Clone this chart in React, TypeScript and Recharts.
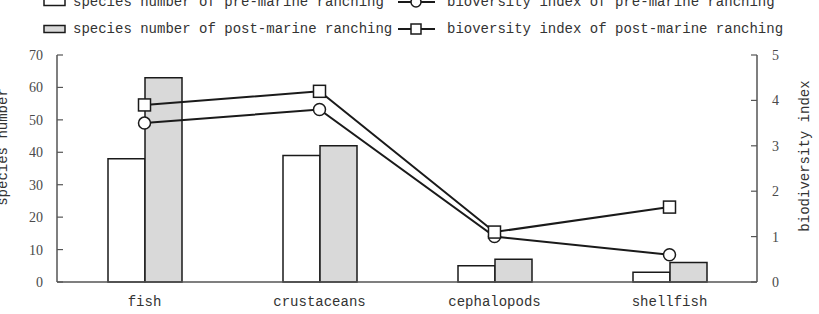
import React from "react"
import { ComposedChart, Bar, Line, XAxis, YAxis } from "recharts"

const categories = ["fish", "crustaceans", "cephalopods", "shellfish"]
const speciesPre = [38, 39, 5, 3]
const speciesPost = [63, 42, 7, 6]
const indexPre = [3.5, 3.8, 1.0, 0.6]
const indexPost = [3.9, 4.2, 1.1, 1.65]

const speciesTicks = [0, 10, 20, 30, 40, 50, 60, 70]
const indexTicks = [0, 1, 2, 3, 4, 5]

const seriesNames = {
  speciesPre: "species number of pre-marine ranching",
  speciesPost: "species number of post-marine ranching",
  indexPre: "bioversity index of pre-marine ranching",
  indexPost: "bioversity index of post-marine ranching",
}

const data = categories.map((name, i) => ({
  name,
  speciesPre: speciesPre[i],
  speciesPost: speciesPost[i],
  indexPre: indexPre[i],
  indexPost: indexPost[i],
}))

const MONO = "'Liberation Mono', 'DejaVu Sans Mono', monospace"
const SERIF = "'Liberation Serif', 'DejaVu Serif', serif"
const INK = "#1a1a1a"
const AXIS = "#555"
const GREY_FILL = "#d9d9d9"

const numTick = { fontFamily: SERIF, fontSize: 14, fill: "#4a4a4a" }

const SquareDot = (props: any) => {
  const { cx, cy } = props
  if (cx == null || cy == null) return null
  return <rect x={cx - 6} y={cy - 6} width={12} height={12} fill="#fff" stroke={INK} strokeWidth={1.5} />
}

const RotatedTitle = ({ x, y, text }: { x: number; y: number; text: string }) => (
  <text
    x={x}
    y={y}
    transform={`rotate(-90 ${x} ${y})`}
    textAnchor="middle"
    dominantBaseline="central"
    fontFamily={MONO}
    fontSize={14}
    fill="#333"
  >
    {text}
  </text>
)

const BarSwatch = ({ fill }: { fill: string }) => (
  <svg width={24} height={10} style={{ position: "absolute", left: 0, top: 3 }}>
    <rect x={1} y={1.5} width={21} height={7} fill={fill} stroke={INK} strokeWidth={1.5} />
  </svg>
)

const LineSwatch = ({ square }: { square: boolean }) => (
  <svg width={38} height={14} style={{ position: "absolute", left: 0, top: 1 }}>
    <line x1={0} y1={7} x2={37} y2={7} stroke={INK} strokeWidth={2} />
    {square ? (
      <rect x={13} y={2} width={10} height={10} fill="#fff" stroke={INK} strokeWidth={1.5} />
    ) : (
      <circle cx={18} cy={7} r={5} fill="#fff" stroke={INK} strokeWidth={1.5} />
    )}
  </svg>
)

function LegendBlock() {
  const row = (top: number, left: React.ReactNode, leftText: string, right: React.ReactNode, rightText: string) => (
    <div style={{ position: "absolute", top, left: 0, width: 819, height: 16 }}>
      <div style={{ position: "absolute", left: 43 }}>{left}</div>
      <div style={{ position: "absolute", left: 73, lineHeight: "16px", whiteSpace: "nowrap" }}>{leftText}</div>
      <div style={{ position: "absolute", left: 398 }}>{right}</div>
      <div style={{ position: "absolute", left: 447, lineHeight: "16px", whiteSpace: "nowrap" }}>{rightText}</div>
    </div>
  )
  return (
    <div style={{ position: "absolute", left: 0, top: 0, fontFamily: MONO, fontSize: 14, color: "#333" }}>
      {row(-6, <BarSwatch fill="#fff" />, seriesNames.speciesPre, <LineSwatch square={false} />, seriesNames.indexPre)}
      {row(21, <BarSwatch fill={GREY_FILL} />, seriesNames.speciesPost, <LineSwatch square />, seriesNames.indexPost)}
    </div>
  )
}

export default function App() {
  return (
    <div style={{ position: "absolute", left: 0, top: 0, width: 819, height: 314, overflow: "hidden", background: "#fff" }}>
      <ComposedChart width={819} height={314} data={data} margin={{ top: 55, right: 0, bottom: 0, left: 0 }} barGap={0}>
        <XAxis
          dataKey="name"
          height={32}
          tickLine={false}
          tickMargin={8}
          axisLine={{ stroke: AXIS, strokeWidth: 1.5 }}
          tick={{ fontFamily: MONO, fontSize: 14, fill: "#333" }}
          interval={0}
        />
        <YAxis
          yAxisId="species"
          orientation="left"
          width={57}
          domain={[0, 70]}
          ticks={speciesTicks}
          tickSize={-6}
          tickMargin={20}
          axisLine={{ stroke: AXIS, strokeWidth: 1.5 }}
          tickLine={{ stroke: AXIS, strokeWidth: 1.2 }}
          tick={numTick}
          label={{ content: () => <RotatedTitle x={3} y={147} text="species number" /> }}
        />
        <YAxis
          yAxisId="index"
          orientation="right"
          width={62}
          domain={[0, 5]}
          ticks={indexTicks}
          tickSize={-6}
          tickMargin={21}
          axisLine={{ stroke: AXIS, strokeWidth: 1.5 }}
          tickLine={{ stroke: AXIS, strokeWidth: 1.2 }}
          tick={numTick}
          label={{ content: () => <RotatedTitle x={805} y={156} text="biodiversity index" /> }}
        />
        <Bar yAxisId="species" dataKey="speciesPre" name={seriesNames.speciesPre} barSize={37} fill="#fff" stroke={INK} strokeWidth={1.5} isAnimationActive={false} />
        <Bar yAxisId="species" dataKey="speciesPost" name={seriesNames.speciesPost} barSize={37} fill={GREY_FILL} stroke={INK} strokeWidth={1.5} isAnimationActive={false} />
        <Line
          yAxisId="index"
          type="linear"
          dataKey="indexPre"
          name={seriesNames.indexPre}
          stroke={INK}
          strokeWidth={2}
          dot={{ r: 6, fill: "#fff", stroke: INK, strokeWidth: 1.5 }}
          isAnimationActive={false}
        />
        <Line
          yAxisId="index"
          type="linear"
          dataKey="indexPost"
          name={seriesNames.indexPost}
          stroke={INK}
          strokeWidth={2}
          dot={<SquareDot />}
          isAnimationActive={false}
        />
      </ComposedChart>
      <LegendBlock />
    </div>
  )
}
